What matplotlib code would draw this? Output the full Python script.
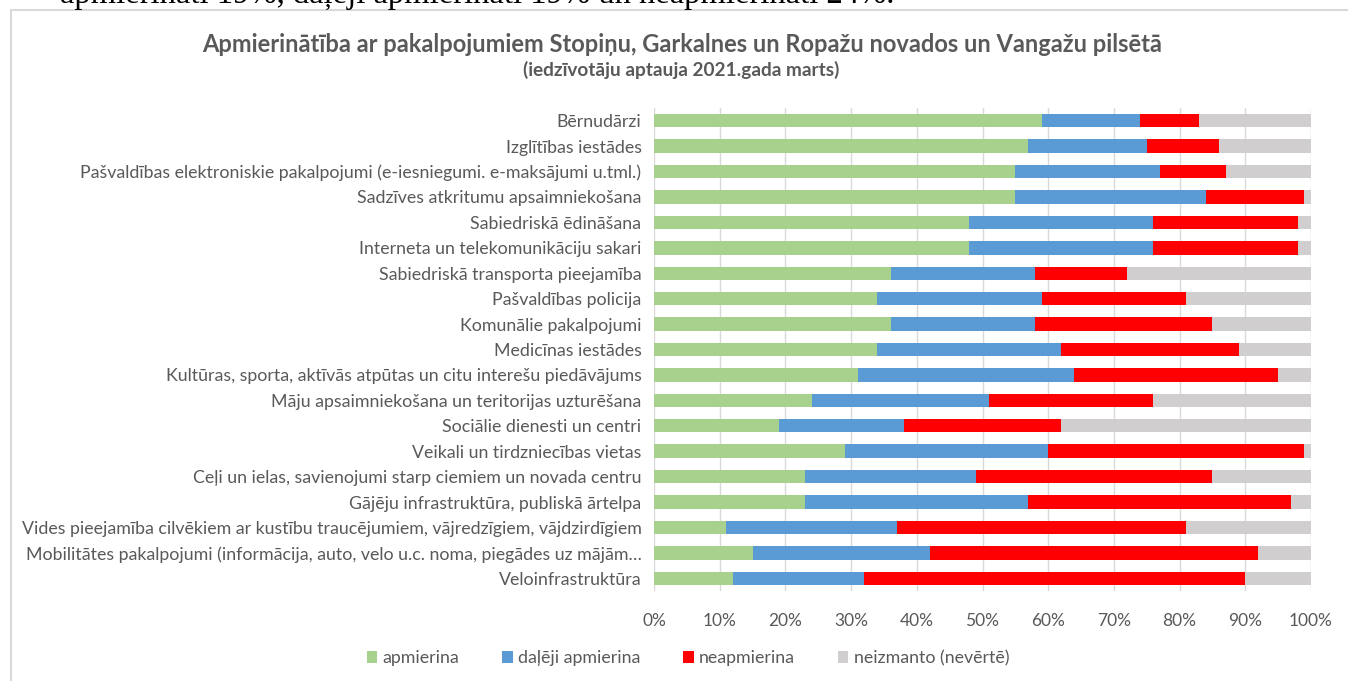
import matplotlib.pyplot as plt
import numpy as np
from matplotlib.patches import Rectangle

plt.rcParams['font.family'] = ['Lato', 'DejaVu Sans']

categories = [
    'Bērnudārzi',
    'Izglītības iestādes',
    'Pašvaldības elektroniskie pakalpojumi (e-iesniegumi. e-maksājumi u.tml.)',
    'Sadzīves atkritumu apsaimniekošana',
    'Sabiedriskā ēdināšana',
    'Interneta un telekomunikāciju sakari',
    'Sabiedriskā transporta pieejamība',
    'Pašvaldības policija',
    'Komunālie pakalpojumi',
    'Medicīnas iestādes',
    'Kultūras, sporta, aktīvās atpūtas un citu interešu piedāvājums',
    'Māju apsaimniekošana un teritorijas uzturēšana',
    'Sociālie dienesti un centri',
    'Veikali un tirdzniecības vietas',
    'Ceļi un ielas, savienojumi starp ciemiem un novada centru',
    'Gājēju infrastruktūra, publiskā ārtelpa',
    'Vides pieejamība cilvēkiem ar kustību traucējumiem, vājredzīgiem, vājdzirdīgiem',
    'Mobilitātes pakalpojumi (informācija, auto, velo u.c. noma, piegādes uz mājām…',
    'Veloinfrastruktūra',
]

apmierina = [59, 57, 55, 55, 48, 48, 36, 34, 36, 34, 31, 24, 19, 29, 23, 23, 11, 15, 12]
daleji = [15, 18, 22, 29, 28, 28, 22, 25, 22, 28, 33, 27, 19, 31, 26, 34, 26, 27, 20]
neapmierina = [9, 11, 10, 15, 22, 22, 14, 22, 27, 27, 31, 25, 24, 39, 36, 40, 44, 50, 58]
neizmanto = [17, 14, 13, 1, 2, 2, 28, 19, 15, 11, 5, 24, 38, 1, 15, 3, 19, 8, 10]

series = ['apmierina', 'daļēji apmierina', 'neapmierina', 'neizmanto (nevērtē)']
colors = ['#A9D18E', '#5B9BD5', '#FF0000', '#D0CECE']
text_col = '#595959'

W, H = 1348, 681
fig = plt.figure(figsize=(W / 100, H / 100), dpi=100)

# chart frame (cut off at right and bottom like the screenshot)
fig.patches.append(Rectangle((11 / W, -0.05), 1.1, 1 - 10 / H + 0.05,
                             transform=fig.transFigure, fill=False,
                             edgecolor='#D9D9D9', lw=1.5))

# document text cut off at the top
fig.text(60 / W, 1 - 3 / H, 'apmierināti 19%, daļēji apmierināti 19% un neapmierināti 24%.',
         family='Liberation Serif', fontsize=23.5, va='baseline', ha='left', color='black')

ax = fig.add_axes([654 / W, 1 - 591 / H, (1311 - 654) / W, (591 - 108) / H])
y = np.arange(len(categories))
data = [apmierina, daleji, neapmierina, neizmanto]
left = np.zeros(len(categories))
for vals, name, c in zip(data, series, colors):
    vals = np.array(vals, dtype=float)
    ax.barh(y, vals, left=left, height=0.53, color=c, label=name, zorder=3)
    left += vals

ax.set_xlim(0, 100)
ax.set_ylim(len(categories) - 0.5, -0.5)
ax.set_yticks(y)
ax.set_yticklabels(categories, fontsize=12.8, color=text_col)
ax.set_xticks(np.arange(0, 101, 10))
ax.set_xticklabels([f'{v}%' for v in range(0, 101, 10)], fontsize=12.5, color=text_col)
ax.tick_params(length=0, pad=9)
ax.tick_params(axis='x', pad=16)
ax.grid(axis='x', color='#D9D9D9', lw=1, zorder=0)
for s in ax.spines.values():
    s.set_visible(False)

fig.text(682 / W, 1 - 44 / H,
         'Apmierinātība ar pakalpojumiem Stopiņu, Garkalnes un Ropažu novados un Vangažu pilsētā',
         ha='center', va='center', fontsize=17, fontweight='bold', color=text_col)
fig.text(681 / W, 1 - 70 / H, '(iedzīvotāju aptauja 2021.gada marts)',
         ha='center', va='center', fontsize=13.7, fontweight='bold', color=text_col)

fig.legend(loc='center', bbox_to_anchor=(688 / W, 1 - 658 / H), ncol=4, frameon=False,
           fontsize=12.8, labelcolor=text_col, handlelength=0.6, handleheight=0.7,
           handletextpad=0.3, columnspacing=2.4)

fig.savefig('out.png', dpi=100)
